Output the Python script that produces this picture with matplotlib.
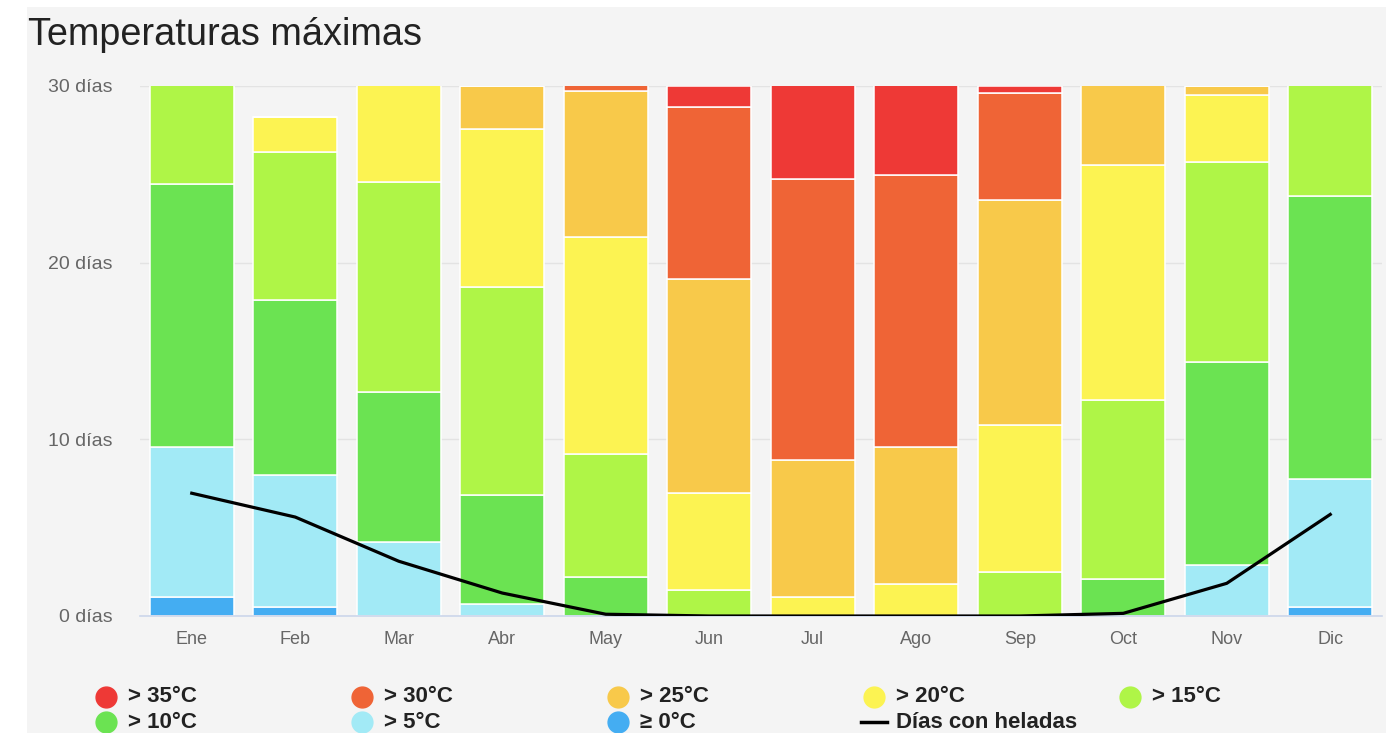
import matplotlib
import matplotlib.pyplot as plt
import numpy as np
from matplotlib.patches import Rectangle
from matplotlib.lines import Line2D

matplotlib.use("Agg")

plt.rcParams["font.family"] = ["Liberation Sans", "DejaVu Sans"]

# Months and stacked day counts per band (bottom to top)
months = ["Ene", "Feb", "Mar", "Abr", "May", "Jun", "Jul", "Ago", "Sep", "Oct", "Nov", "Dic"]
days_ge0 = [1.1, 0.5, 0.0, 0.0, 0.0, 0.0, 0.0, 0.0, 0.0, 0.0, 0.0, 0.5]
days_gt5 = [8.45, 7.5, 4.2, 0.7, 0.0, 0.0, 0.0, 0.0, 0.0, 0.0, 2.9, 7.25]
days_gt10 = [14.9, 9.9, 8.5, 6.15, 2.2, 0.0, 0.0, 0.0, 0.0, 2.1, 11.5, 16.0]
days_gt15 = [6.55, 8.35, 11.85, 11.75, 6.95, 1.5, 0.0, 0.0, 2.5, 10.1, 11.3, 7.25]
days_gt20 = [0.0, 2.0, 6.45, 8.95, 12.3, 5.45, 1.1, 1.8, 8.3, 13.35, 3.8, 0.0]
days_gt25 = [0.0, 0.0, 0.0, 2.45, 8.25, 12.1, 7.75, 7.75, 12.75, 5.45, 0.5, 0.0]
days_gt30 = [0.0, 0.0, 0.0, 0.0, 1.3, 9.75, 15.9, 15.4, 6.05, 0.0, 0.0, 0.0]
days_gt35 = [0.0, 0.0, 0.0, 0.0, 0.0, 1.2, 6.25, 6.05, 0.4, 0.0, 0.0, 0.0]
frost_days = [6.95, 5.6, 3.1, 1.3, 0.1, 0.0, 0.0, 0.0, 0.0, 0.15, 1.85, 5.75]

band_labels = ["> 35°C", "> 30°C", "> 25°C", "> 20°C", "> 15°C", "> 10°C", "> 5°C", "≥ 0°C"]
band_colors = ["#EE3936", "#EF6436", "#F8C94A", "#FCF352", "#AFF547", "#6BE352", "#A2EAF6", "#44ADF2"]
band_series = [days_gt35, days_gt30, days_gt25, days_gt20, days_gt15, days_gt10, days_gt5, days_ge0]

PANEL = "#F4F4F4"
TEXT = "#666666"

fig = plt.figure(figsize=(13.86, 7.33), dpi=100)
fig.patch.set_facecolor("white")
fig.add_artist(Rectangle((27 / 1386, 0), 1 - 27 / 1386, 1 - 7 / 733,
                         transform=fig.transFigure, facecolor=PANEL,
                         edgecolor="none", zorder=-10))

ax = fig.add_axes([140 / 1386, 1 - 616 / 733, (1382 - 140) / 1386, (616 - 86) / 733])
ax.set_facecolor(PANEL)

x = np.arange(len(months))
bottom = np.zeros(len(months))
# stack from the coldest band upwards
for vals, color in zip(band_series[::-1], band_colors[::-1]):
    vals = np.array(vals)
    ax.bar(x, vals, bottom=bottom, width=0.81, color=color,
           edgecolor="white", linewidth=1.1, zorder=2)
    bottom += vals

ax.plot(x, frost_days, color="black", lw=2.3, zorder=4, solid_joinstyle="round")

ax.set_xlim(-0.5, 11.5)
ax.set_ylim(0, 30)
ax.set_yticks([0, 10, 20, 30])
ax.set_yticklabels([f"{v} días" for v in [0, 10, 20, 30]])
ax.set_xticks(x)
ax.set_xticklabels(months)
ax.tick_params(axis="both", length=0, colors=TEXT, labelsize=13)
ax.tick_params(axis="y", pad=20, labelsize=14)
ax.tick_params(axis="x", pad=11)
ax.yaxis.grid(True, color="#E3E3E3", lw=1)
ax.set_axisbelow(True)
for side in ["top", "right", "left"]:
    ax.spines[side].set_visible(False)
ax.spines["bottom"].set_color("#CCD6EB")
ax.spines["bottom"].set_linewidth(1.2)

fig.text(28 / 1386, 1 - 45 / 733, "Temperaturas máximas", fontsize=27.3,
         color="#222222", ha="left", va="baseline")

# legend laid out like the original: 5 columns, row-major
col_x = [106, 362, 618, 874, 1130]
row_y = [697, 722]
items = [(lab, col) for lab, col in zip(band_labels, band_colors)] + [("Días con heladas", None)]
for i, (lab, col) in enumerate(items):
    cx = col_x[i % 5] / 1386
    cy = 1 - row_y[i // 5] / 733
    if col is None:
        fig.add_artist(Line2D([cx - 13 / 1386, cx + 13 / 1386], [cy, cy],
                              transform=fig.transFigure, color="black", lw=2.5))
    else:
        fig.add_artist(Line2D([cx], [cy], transform=fig.transFigure, marker="o",
                              markersize=15, color=col, lw=0))
    fig.text(cx + 22 / 1386, cy, lab, fontsize=16, fontweight="bold",
             color="#222222", ha="left", va="center")

fig.savefig("out.png", dpi=100, facecolor=fig.get_facecolor())
